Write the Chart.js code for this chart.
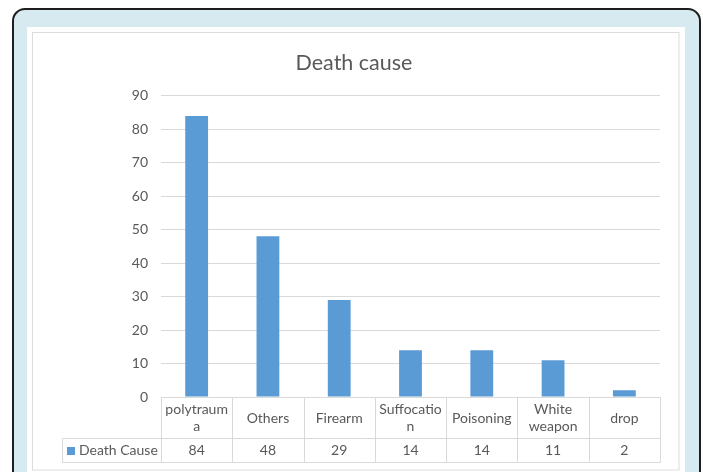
<!DOCTYPE html>
<html>
<head>
<meta charset="utf-8">
<script src="https://cdn.jsdelivr.net/npm/chart.js@4"></script>
<style>
  html, body { margin: 0; padding: 0; background: #ffffff; }
  canvas { display: block; }
</style>
</head>
<body>
<canvas id="chart" width="703" height="472"></canvas>
<script>
// Causes of death, counts per category
const categories = ['polytrauma', 'Others', 'Firearm', 'Suffocation', 'Poisoning', 'White weapon', 'drop'];
// How each category name is wrapped inside its table cell
const categoryLines = [['polytraum', 'a'], ['Others'], ['Firearm'], ['Suffocatio', 'n'], ['Poisoning'], ['White', 'weapon'], ['drop']];
const deathCause = [84, 48, 29, 14, 14, 11, 2];
const seriesName = 'Death Cause';
const titleText = 'Death cause';
const yMin = 0;
const yMax = 90;
const yStep = 10;

const FONT = 'Lato, "Open Sans", "DejaVu Sans", sans-serif';
const TEXT = '#595959';
const LINE = '#d9d9d9';
const BAR = '#5b9bd5';

// Outer rounded panel, inner white sheet and the chart's own thin border
const framePlugin = {
  id: 'frame',
  beforeDraw(chart) {
    const ctx = chart.ctx;
    ctx.save();
    ctx.fillStyle = '#ffffff';
    ctx.fillRect(0, 0, chart.width, chart.height);

    const x0 = 13, y0 = 9, x1 = 700, y1 = chart.height + 30, r = 12;
    ctx.beginPath();
    ctx.moveTo(x0 + r, y0);
    ctx.lineTo(x1 - r, y0);
    ctx.arcTo(x1, y0, x1, y0 + r, r);
    ctx.lineTo(x1, y1);
    ctx.lineTo(x0, y1);
    ctx.lineTo(x0, y0 + r);
    ctx.arcTo(x0, y0, x0 + r, y0, r);
    ctx.closePath();
    ctx.fillStyle = '#d6eaf0';
    ctx.fill();
    ctx.lineWidth = 2;
    ctx.strokeStyle = '#1e1e1e';
    ctx.stroke();

    ctx.fillStyle = '#ffffff';
    ctx.fillRect(27, 27, 685 - 27, chart.height - 27);

    ctx.strokeStyle = '#dcdcdc';
    ctx.lineWidth = 1;
    ctx.strokeRect(32.5, 32.5, 679 - 32.5, 470 - 32.5);
    ctx.restore();
  }
};

// Data table under the plot: category names, legend key and values
const tablePlugin = {
  id: 'dataTable',
  afterDraw(chart) {
    const ctx = chart.ctx;
    const area = chart.chartArea;
    const xs = chart.scales.x;
    const n = categories.length;
    const colW = (area.right - area.left) / n;
    const top = Math.round(area.bottom) + 0.5;
    const mid = top + 41;
    const bottom = top + 65;
    const keyLeft = 62.5;

    ctx.save();
    ctx.strokeStyle = LINE;
    ctx.lineWidth = 1;
    ctx.beginPath();
    for (let i = 0; i <= n; i++) {
      const x = Math.round(area.left + i * colW) + 0.5;
      ctx.moveTo(x, top);
      ctx.lineTo(x, bottom);
    }
    ctx.moveTo(Math.round(area.left) + 0.5, top);
    ctx.lineTo(Math.round(area.right) + 0.5, top);
    ctx.moveTo(keyLeft, mid);
    ctx.lineTo(Math.round(area.right) + 0.5, mid);
    ctx.moveTo(keyLeft, bottom);
    ctx.lineTo(Math.round(area.right) + 0.5, bottom);
    ctx.moveTo(keyLeft, mid);
    ctx.lineTo(keyLeft, bottom);
    ctx.stroke();

    ctx.fillStyle = TEXT;
    ctx.font = '14px ' + FONT;
    ctx.textAlign = 'center';
    ctx.textBaseline = 'middle';
    const lineH = 17;
    const rowC = (top + mid) / 2;
    categoryLines.forEach((lines, i) => {
      const cx = xs.getPixelForValue(i);
      const start = rowC - (lines.length - 1) * lineH / 2;
      lines.forEach((t, j) => ctx.fillText(t, cx, start + j * lineH));
    });
    const valC = (mid + bottom) / 2;
    deathCause.forEach((v, i) => {
      ctx.fillText(String(v), xs.getPixelForValue(i), valC);
    });

    // legend key
    ctx.fillStyle = BAR;
    ctx.fillRect(67, Math.round(valC) - 4, 8, 8);
    ctx.fillStyle = TEXT;
    ctx.textAlign = 'left';
    ctx.fillText(seriesName, 79, valC);
    ctx.restore();
  }
};

new Chart(document.getElementById('chart'), {
  type: 'bar',
  data: {
    labels: categories,
    datasets: [{
      label: seriesName,
      data: deathCause,
      backgroundColor: BAR,
      borderWidth: 0,
      barPercentage: 0.32,
      categoryPercentage: 1.0
    }]
  },
  options: {
    responsive: false,
    animation: false,
    devicePixelRatio: 1,
    layout: { padding: { left: 48, right: 43, top: 50, bottom: 75 } },
    plugins: {
      legend: { display: false },
      tooltip: { enabled: false },
      title: {
        display: true,
        text: titleText,
        color: TEXT,
        font: { family: FONT, size: 21.5, weight: 'normal' },
        padding: { top: 0, bottom: 20 }
      }
    },
    scales: {
      x: { display: false },
      y: {
        min: yMin,
        max: yMax,
        ticks: {
          stepSize: yStep,
          color: TEXT,
          padding: 13,
          font: { family: FONT, size: 14 }
        },
        grid: { color: LINE, drawTicks: false },
        border: { display: false },
        afterFit(scale) { scale.width = 113; }
      }
    }
  },
  plugins: [framePlugin, tablePlugin]
});
</script>
</body>
</html>
